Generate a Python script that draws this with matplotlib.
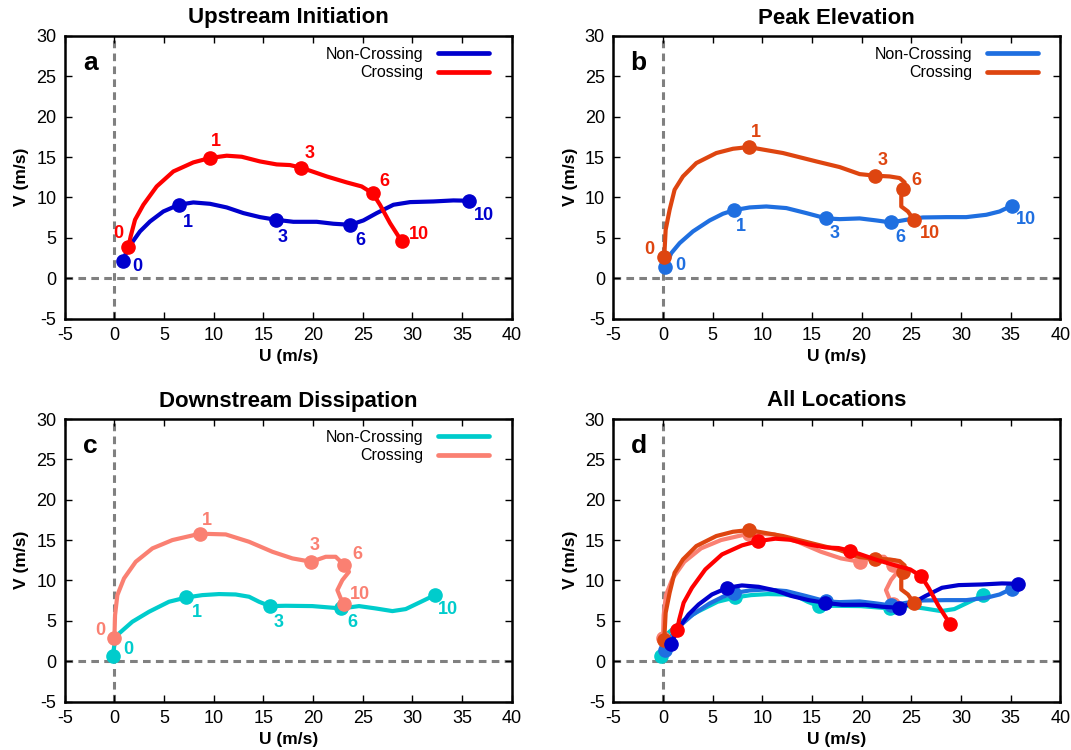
import matplotlib
matplotlib.use("Agg")
import matplotlib.pyplot as plt

plt.rcParams["font.family"] = ["Liberation Sans", "DejaVu Sans"]
plt.rcParams["lines.scale_dashes"] = False
plt.rcParams["axes.unicode_minus"] = False

# Hodograph levels marked along each curve
levels = ["0", "1", "3", "6", "10"]

# ---- Upstream Initiation ----
up_nc_u = [0.84, 1.24, 1.74, 2.58, 3.59, 4.93, 6.48, 7.95, 9.63, 11.31, 12.99, 14.66, 16.28,
           18.02, 20.37, 22.05, 23.76, 25.07, 26.41, 28.09, 29.77, 32.11, 34.13, 35.74]
up_nc_v = [2.07, 3.31, 4.34, 5.79, 7.02, 8.26, 9.09, 9.38, 9.21, 8.76, 8.06, 7.56, 7.23,
           6.98, 6.98, 6.74, 6.61, 7.15, 8.06, 9.09, 9.42, 9.50, 9.63, 9.59]
up_nc_idx = [0, 6, 12, 16, 23]

up_c_u = [1.41, 1.64, 2.08, 2.92, 4.26, 5.94, 7.95, 9.60, 11.31, 12.82, 14.66, 16.34, 17.68,
          18.83, 21.38, 23.39, 24.90, 26.01, 26.74, 27.75, 28.93]
up_c_v = [3.80, 5.17, 7.23, 9.09, 11.36, 13.22, 14.34, 14.88, 15.17, 15.04, 14.46, 14.09, 14.01,
          13.68, 12.60, 11.86, 11.36, 10.50, 9.09, 6.82, 4.55]
up_c_idx = [0, 7, 13, 17, 20]

# ---- Peak Elevation ----
pk_nc_u = [0.20, 0.84, 1.68, 3.02, 4.70, 6.04, 7.18, 8.72, 10.40, 12.42, 14.43, 16.44, 17.79,
           19.80, 21.48, 22.95, 24.50, 26.17, 28.52, 30.54, 32.55, 33.89, 35.10]
pk_nc_v = [1.36, 3.10, 4.34, 5.79, 7.15, 7.98, 8.43, 8.76, 8.88, 8.68, 8.06, 7.40, 7.31,
           7.40, 7.15, 6.90, 7.23, 7.52, 7.56, 7.56, 7.85, 8.26, 8.97]
pk_nc_idx = [0, 6, 11, 15, 22]

pk_c_u = [0.13, 0.20, 0.27, 0.67, 1.17, 2.01, 3.36, 5.37, 7.05, 8.62, 12.08, 15.44, 17.79,
          19.80, 21.38, 22.82, 23.83, 24.33, 24.19, 23.99, 23.99, 24.66, 25.30]
pk_c_v = [2.64, 4.34, 5.99, 8.47, 10.95, 12.60, 14.26, 15.50, 16.03, 16.24, 15.50, 14.46, 13.76,
          12.89, 12.69, 12.60, 12.40, 11.86, 10.99, 10.12, 8.88, 8.26, 7.15]
pk_c_idx = [0, 9, 14, 18, 22]

# ---- Downstream Dissipation ----
dn_nc_u = [-0.17, 0.00, 0.47, 1.81, 3.49, 5.50, 7.25, 8.86, 10.54, 12.21, 13.56, 14.56, 15.67,
           17.25, 19.93, 22.85, 24.63, 26.31, 27.99, 29.33, 31.01, 32.25]
dn_nc_v = [0.66, 1.98, 3.43, 4.88, 6.12, 7.36, 7.89, 8.18, 8.31, 8.26, 7.98, 7.36, 6.82,
           6.86, 6.82, 6.53, 6.82, 6.53, 6.20, 6.45, 7.44, 8.18]
dn_nc_idx = [0, 6, 12, 15, 21]

dn_c_u = [0.00, 0.07, 0.30, 0.97, 2.15, 3.83, 5.84, 8.62, 11.21, 13.56, 15.91, 17.92, 19.83,
          21.28, 22.28, 23.15, 23.62, 22.95, 22.45, 22.79, 23.15]
dn_c_v = [2.81, 5.70, 8.18, 10.25, 12.31, 13.97, 15.00, 15.79, 15.70, 14.79, 13.55, 12.73, 12.31,
          12.93, 12.93, 11.90, 11.07, 10.04, 8.80, 7.77, 7.11]
dn_c_idx = [0, 7, 12, 15, 20]

# Level-label offsets (points) for each curve
up_nc_off = [(10.8, -3.6), (6.5, -12.5), (4.8, -12.5), (7, -11.3), (10.5, -10.8)]
up_c_off = [(-7.2, 9.8), (4.6, 12), (5.8, 10), (8.2, 8.6), (12.7, 5.3)]
pk_nc_off = [(11, 1), (5, -11.8), (6, -10.6), (7, -11), (10.5, -10)]
pk_c_off = [(-11, 5), (5.5, 10.8), (5, 10.8), (9.8, 6.5), (11, -9.6)]
dn_nc_off = [(11, 4.3), (7.2, -10.8), (6.5, -11.8), (7.9, -10), (9.8, -10.3)]
dn_c_off = [(-10, 6), (5.3, 9.8), (2.4, 12), (9.4, 7.7), (11, 7)]

col_up_nc, col_up_c = "#0000cd", "#ff0000"
col_pk_nc, col_pk_c = "#1f6fe0", "#de4510"
col_dn_nc, col_dn_c = "#00cccc", "#fa8072"

panels = {
    "up": dict(nc=(up_nc_u, up_nc_v, up_nc_idx, up_nc_off, col_up_nc),
               c=(up_c_u, up_c_v, up_c_idx, up_c_off, col_up_c)),
    "pk": dict(nc=(pk_nc_u, pk_nc_v, pk_nc_idx, pk_nc_off, col_pk_nc),
               c=(pk_c_u, pk_c_v, pk_c_idx, pk_c_off, col_pk_c)),
    "dn": dict(nc=(dn_nc_u, dn_nc_v, dn_nc_idx, dn_nc_off, col_dn_nc),
               c=(dn_c_u, dn_c_v, dn_c_idx, dn_c_off, col_dn_c)),
}

fig = plt.figure(figsize=(10.71, 7.5), dpi=100)
W, H = 1071, 750
def add_ax(left, top):
    return fig.add_axes([left / W, 1 - (top + 282.5) / H, 447 / W, 282.5 / H])

ax_a = add_ax(64.7, 36)
ax_b = add_ax(613.3, 36)
ax_c = add_ax(64.7, 419)
ax_d = add_ax(613.3, 419)

LW = 3.0
MS = 9.5

def style(ax, title, letter):
    ax.set_xlim(-5, 40)
    ax.set_ylim(-5, 30)
    ax.set_xticks(range(-5, 41, 5))
    ax.set_yticks(range(-5, 31, 5))
    ax.axhline(0, color="#808080", lw=2.2, ls=(0, (5.5, 3.8)), zorder=1)
    ax.axvline(0, color="#808080", lw=2.2, ls=(0, (5.5, 3.8)), zorder=1)
    ax.tick_params(direction="in", top=True, right=True, length=5, width=1.0,
                   labelsize=13, pad=6, colors="black")
    for s in ax.spines.values():
        s.set_linewidth(1.8)
    ax.set_xlabel("U (m/s)", fontsize=12.5, fontweight="bold", labelpad=4)
    ax.set_ylabel("V (m/s)", fontsize=12.5, fontweight="bold", labelpad=5)
    ax.set_title(title, fontsize=16, fontweight="bold", pad=9)
    ax.text(0.057, 0.905, letter, transform=ax.transAxes, fontsize=19,
            fontweight="bold", ha="center", va="center")

def draw_curve(ax, u, v, idx, off, color, label=None, annotate=True, lw=LW, ms=MS, z=3):
    ax.plot(u, v, color=color, lw=lw, solid_joinstyle="round", solid_capstyle="round",
            label=label, zorder=z)
    ax.plot([u[i] for i in idx], [v[i] for i in idx], "o", color=color, ms=ms,
            zorder=z + 0.5)
    if annotate:
        for lev, i, (dx, dy) in zip(levels, idx, off):
            ax.annotate(lev, (u[i], v[i]), xytext=(dx, dy), textcoords="offset points",
                        ha="center", va="center", color=color, fontsize=13,
                        fontweight="bold", zorder=6)

for ax, key, title, letter in [(ax_a, "up", "Upstream Initiation", "a"),
                               (ax_b, "pk", "Peak Elevation", "b"),
                               (ax_c, "dn", "Downstream Dissipation", "c")]:
    style(ax, title, letter)
    nc = panels[key]["nc"]
    c = panels[key]["c"]
    draw_curve(ax, *nc, label="Non-Crossing")
    draw_curve(ax, *c, label="Crossing", z=4)
    leg = ax.legend(loc="upper right", bbox_to_anchor=(0.9636, 0.984), frameon=False,
                    markerfirst=False, fontsize=11.5, handlelength=3.2,
                    handletextpad=0.9, labelspacing=0.2, borderaxespad=0)
    for line in leg.get_lines():
        line.set_linewidth(3.4)

style(ax_d, "All Locations", "d")
zb = 2
for key in ["dn", "pk", "up"]:
    draw_curve(ax_d, *panels[key]["nc"], annotate=False, z=zb)
    draw_curve(ax_d, *panels[key]["c"], annotate=False, z=zb + 1)
    zb += 1

fig.savefig("out.png", dpi=100)
